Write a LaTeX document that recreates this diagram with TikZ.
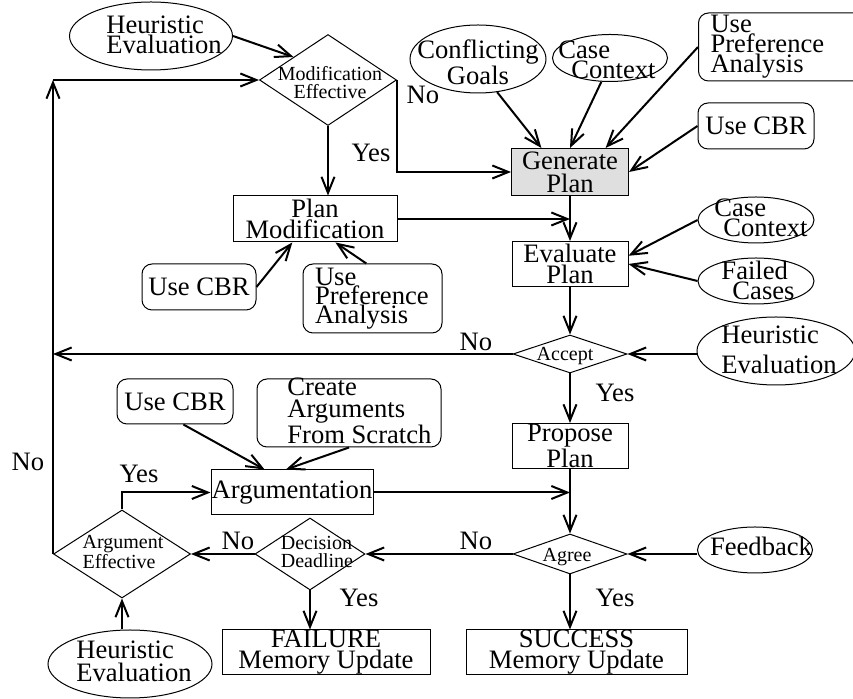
\documentclass[tikz,border=0pt]{standalone}
\usepackage{fontspec}
\setmainfont{Liberation Serif}
\usetikzlibrary{shapes.geometric, arrows.meta}

\begin{document}
\begin{tikzpicture}[>={Straight Barb[length=8pt, width=6.5pt]}, x=0.5pt, y=-0.5pt,
    txt/.style={inner sep=0pt, align=center, font=\fontsize{13.3}{#1}\selectfont},
    txt/.default=11,
    dtxt/.style={inner sep=0pt, align=left, font=\fontsize{10}{9}\selectfont},
    box/.style={rectangle, draw, line width=0.5pt, inner sep=0pt, txt},
    rbox/.style={box, rounded corners=5pt},
    ell/.style={ellipse, draw, line width=0.5pt, inner sep=0pt},
    dec/.style={diamond, draw, line width=0.5pt, inner sep=0pt},
    flow/.style={->, line width=1pt}]
  \useasboundingbox (0,0) rectangle (853,699);

  % Modification loop
  \node[ell, minimum width=81.5pt, minimum height=34pt] (heurA) at (151,36) {};
  \node[txt=10, align=left] (heurAt) at (164,35) {Heuristic\\Evaluation};
  \node[dec, minimum width=68.5pt, minimum height=45.5pt] (modeff) at (328,80) {};
  \node[dtxt, align=center] (modefft) at (330,83) {Modification\\Effective};
  \node[box, minimum width=82pt, minimum height=23pt, txt=8] (planmod) at (315,219) {Plan\\Modification};
  \node[rbox, minimum width=57pt, minimum height=23pt] (cbrB) at (199,287) {Use CBR};
  \node[rbox, txt=9.5, minimum height=34.5pt, text width=57.5pt, inner xsep=6pt, align=left] (prefB) at (372.5,298.5) {Use\\Preference\\Analysis};

  % Generate plan and its inputs
  \node[ell, minimum width=68pt, minimum height=34pt] (goals) at (478,59) {};
  \node[txt=9.5] (goalst) at (478,62) {Conflicting\\Goals};
  \node[ell, minimum width=57.5pt, minimum height=23.5pt] (caseA) at (610,58) {};
  \node[txt=8, align=left] (caseAt) at (607,60) {Case\\\hspace*{6.5pt}Context};
  \node[rbox, txt=10, anchor=west, minimum height=34pt, text width=80pt, inner xsep=6pt, align=left] (prefA) at (698,47) {Use\\Preference\\Analysis};
  \node[rbox, minimum width=58pt, minimum height=23pt] (cbrA) at (756,126) {Use CBR};
  \node[box, fill=gray!25, minimum width=58.5pt, minimum height=23.5pt, txt=11.5] (genplan) at (570,172) {Generate\\Plan};

  % Evaluation
  \node[ell, minimum width=58pt, minimum height=23pt] (caseB) at (756,220) {};
  \node[txt=8, align=left] (caseBt) at (761,218) {Case\\\hspace*{4.5pt}Context};
  \node[ell, minimum width=58pt, minimum height=23pt] (failed) at (756,281) {};
  \node[txt=8.5, align=left] (failedt) at (758,280) {Failed\\\hspace*{5.5pt}Cases};
  \node[box, minimum width=58pt, minimum height=22.5pt, txt=8] (evalplan) at (570,264) {Evaluate\\Plan};
  \node[ell, minimum width=79pt, minimum height=34pt] (heurB) at (776,351) {};
  \node[txt=15, align=left] (heurBt) at (779,350) {Heuristic\\Evaluation};
  \node[dec, minimum width=57pt, minimum height=19pt] (accept) at (570,354) {};
  \node[dtxt] (acceptt) at (565,356) {Accept};
  \node[box, minimum width=58pt, minimum height=22.5pt] (propose) at (570,446) {Propose\\Plan};

  % Argumentation
  \node[rbox, minimum width=58pt, minimum height=22.5pt] (cbrC) at (175,401.5) {Use CBR};
  \node[rbox, minimum width=92pt, minimum height=34pt] (create) at (349,413) {};
  \node[txt, align=left, anchor=west] (createt) at (287,411) {Create\\Arguments\\From Scratch};
  \node[box, minimum width=81pt, minimum height=22.5pt] (argum) at (292,492.5) {Argumentation};
  \node[dec, minimum width=68.5pt, minimum height=44pt] (argeff) at (122,554) {};
  \node[dtxt] (argefft) at (123,552) {Argument\\Effective};
  \node[dec, minimum width=55pt, minimum height=36pt] (deadline) at (310,554) {};
  \node[dtxt] (deadlinet) at (317,552) {Decision\\Deadline};
  \node[dec, minimum width=57pt, minimum height=20pt] (agree) at (570,554) {};
  \node[dtxt] (agreet) at (567,557) {Agree};
  \node[ell, minimum width=57.5pt, minimum height=23pt] (feedback) at (755,550) {};
  \node[txt] (feedbackt) at (761,546) {Feedback};
  \node[ell, minimum width=82pt, minimum height=34pt] (heurC) at (130,664) {};
  \node[txt=11.5, align=left] (heurCt) at (134,661) {Heuristic\\Evaluation};

  % Outcomes
  \node[box, minimum width=104pt, minimum height=22pt, txt=7.5] (failure) at (326,652) {FAILURE\\Memory Update};
  \node[box, minimum width=110.5pt, minimum height=22pt, txt=7.5] (success) at (576.5,652) {SUCCESS\\Memory Update};

  % Yes / No
  \node[txt] (no1) at (423,95) {No};
  \node[txt] (yes1) at (371,153) {Yes};
  \node[txt] (no2) at (476,342) {No};
  \node[txt] (yes2) at (615,393) {Yes};
  \node[txt] (no3) at (28,462) {No};
  \node[txt] (yes3) at (139,474) {Yes};
  \node[txt] (no4) at (238,541) {No};
  \node[txt] (no5) at (476,541) {No};
  \node[txt] (yes4) at (359,598) {Yes};
  \node[txt] (yes5) at (615,598) {Yes};

  \coordinate (loop) at (argeff.west |- modeff.west);

  % Connectors
  \draw[flow] (heurA.east) -- (modeff.north west);
  \draw[flow] (modeff.south) -- (modeff.south |- planmod.north);
  \draw[flow] (modeff.east) |- (genplan.west);
  \draw[flow] (argeff.west) -- (loop);
  \draw[flow] (loop) -- (modeff.west);
  \draw[flow] (goals.-60) -- (genplan.140);
  \draw[flow] (caseA.250) -- (genplan.north);
  \draw[flow] (prefA.west) -- (genplan.34);
  \draw[flow] (cbrA.west) -- (genplan.east);
  \draw[flow] (genplan.south) -- (evalplan.north);
  \draw[flow] (planmod.east) -- (planmod.east -| genplan.south);
  \draw[flow] (cbrB.east) -- (planmod.-134);
  \draw[flow] (prefB.100) -- (planmod.-49);
  \draw[flow] (caseB.west) -- (evalplan.8);
  \draw[flow] (failed.west) -- (evalplan.east);
  \draw[flow] (evalplan.south) -- (accept.north);
  \draw[flow] (accept.east -| heurB.west) -- (accept.east);
  \draw[flow] (accept.west) -- (accept.west -| loop);
  \draw[flow] (accept.south) -- (propose.north);
  \draw[flow] (propose.south) -- (agree.north);
  \draw[flow] (cbrC.-70) -- (argum.140);
  \draw[flow] (create.south) -- (argum.105);
  \draw[flow] (argum.east) -- (argum.east -| propose.south);
  \draw[flow] (argeff.north) |- (argum.west);
  \draw[flow] (agree.east -| feedback.west) -- (agree.east);
  \draw[flow] (agree.west) -- (deadline.east);
  \draw[flow] (deadline.west) -- (argeff.east);
  \draw[flow] (deadline.south) -- (deadline.south |- failure.north);
  \draw[flow] (agree.south) -- (agree.south |- success.north);
  \draw[flow] (argeff.south |- heurC.north) -- (argeff.south);
\end{tikzpicture}
\end{document}
